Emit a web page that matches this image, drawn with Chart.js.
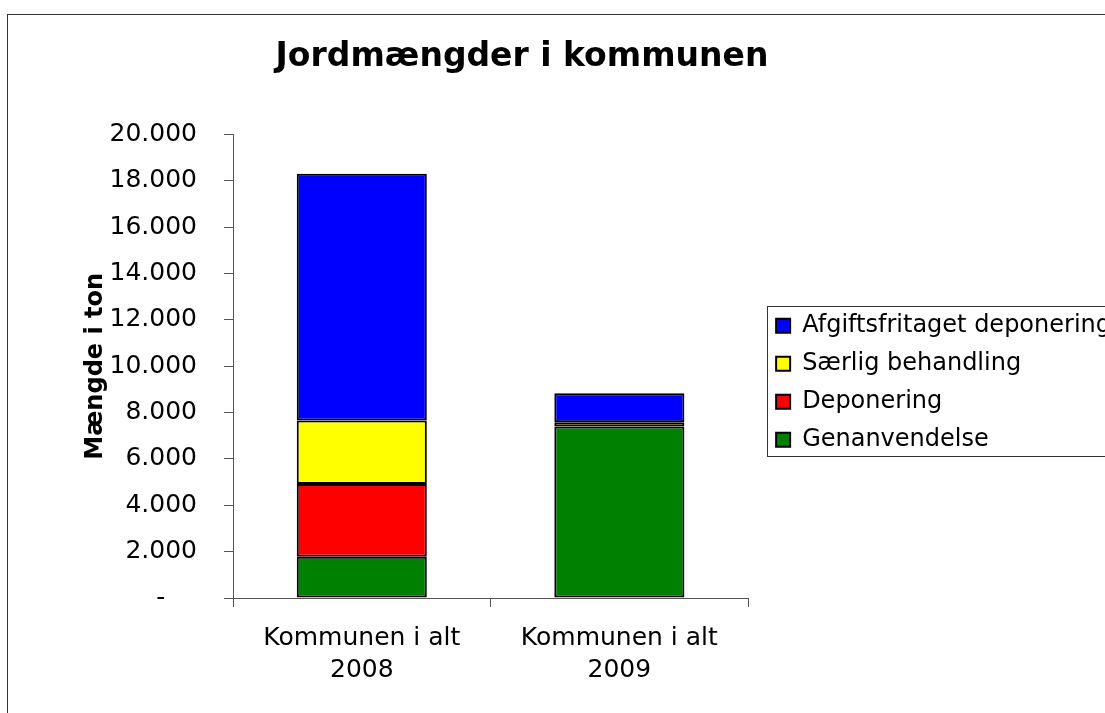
<!DOCTYPE html>
<html>
<head>
<meta charset="utf-8">
<title>Jordmængder i kommunen</title>
<script src="https://cdn.jsdelivr.net/npm/chart.js@4.4.0/dist/chart.umd.min.js"></script>
<style>
    html, body { margin: 0; padding: 0; background: #fff; overflow: hidden; }
    #frame { position: absolute; left: 7px; top: 14px; width: 1200px; height: 800px; border: 1px solid #333; }
    #chart { position: absolute; left: -60px; top: 0; }
</style>
</head>
<body>
<div id="frame"></div>
<canvas id="chart" width="1165" height="713"></canvas>
<script>
// Data
const categories = [['Kommunen i alt', '2008'], ['Kommunen i alt', '2009']];
const seriesNames = ['Genanvendelse', 'Deponering', 'Særlig behandling', 'Afgiftsfritaget deponering'];
const genanvendelse = [1780, 7400];
const deponering = [3140, 0];
const saerligBehandling = [2740, 180];
const afgiftsfritaget = [10650, 1260];
const seriesColors = ['#008000', '#ff0000', '#ffff00', '#0000ff'];
const yMax = 20000;
const yStep = 2000;

Chart.defaults.font.family = "'DejaVu Sans', Verdana, sans-serif";
Chart.defaults.color = '#000';

function formatTon(value) {
    if (value === 0) return '-    ';
    return String(value).replace(/\B(?=(\d{3})+(?!\d))/g, '.');
}

// draws the thin frame round the legend, like the Excel original
const legendFrame = {
    id: 'legendFrame',
    afterDraw(chart) {
        const boxes = chart.legend.legendHitBoxes;
        if (!boxes || !boxes.length) return;
        const first = boxes[0];
        const last = boxes[boxes.length - 1];
        const ctx = chart.ctx;
        ctx.save();
        ctx.strokeStyle = '#333';
        ctx.lineWidth = 1;
        ctx.strokeRect(Math.round(first.left - 9) + 0.5, Math.round(first.top - 8) + 0.5,
            chart.width, Math.round(last.top + last.height - first.top + 12));
        ctx.restore();
    }
};

const seriesData = [genanvendelse, deponering, saerligBehandling, afgiftsfritaget];

const datasets = seriesNames.map((name, i) => ({
    label: name,
    data: seriesData[i],
    backgroundColor: seriesColors[i],
    borderColor: '#000',
    borderWidth: 2,
    borderSkipped: false,
    barPercentage: 0.505,
    categoryPercentage: 1
}));

const ctx = document.getElementById('chart').getContext('2d');
new Chart(ctx, {
    type: 'bar',
    data: {
        labels: categories,
        datasets: datasets
    },
    options: {
        responsive: false,
        animation: false,
        layout: {
            padding: { left: -17, right: -16, top: 0, bottom: 15 }
        },
        plugins: {
            title: {
                display: true,
                text: 'Jordmængder i kommunen',
                color: '#000',
                font: { size: 33, weight: 'bold' },
                padding: { top: 38, bottom: 57 }
            },
            legend: {
                position: 'right',
                fullSize: false,
                align: 'center',
                reverse: true,
                maxWidth: 400,
                title: {
                    display: true,
                    text: ' ',
                    font: { size: 10, lineHeight: 1 },
                    padding: { top: 0, bottom: 23 }
                },
                labels: {
                    boxWidth: 14,
                    boxHeight: 14,
                    padding: 14,
                    color: '#000',
                    font: { size: 24 }
                }
            },
            tooltip: { enabled: false }
        },
        scales: {
            x: {
                stacked: true,
                grid: { drawOnChartArea: false, color: '#555', tickLength: 9, offset: true },
                border: { color: '#555' },
                ticks: {
                    color: '#000',
                    padding: 15,
                    maxRotation: 0,
                    font: { size: 25, lineHeight: 1.28 }
                },
                afterFit: function(scale) { scale.height = 100; }
            },
            y: {
                stacked: true,
                min: 0,
                max: yMax,
                grid: { drawOnChartArea: false, color: '#555', tickLength: 9 },
                border: { color: '#555' },
                ticks: {
                    stepSize: yStep,
                    padding: 27,
                    color: '#000',
                    font: { size: 25 },
                    callback: function(value) { return formatTon(value); }
                },
                title: {
                    display: true,
                    text: 'Mængde i ton',
                    color: '#000',
                    font: { size: 24, weight: 'bold' },
                    padding: { top: 158.6, bottom: 0 }
                },
                afterFit: function(scale) { scale.width = 310; }
            },
            spacer: {
                type: 'linear',
                axis: 'y',
                position: 'right',
                display: true,
                grid: { display: false },
                border: { display: false },
                ticks: { display: false },
                afterFit: function(scale) { scale.width = 14; }
            }
        }
    },
    plugins: [legendFrame]
});
</script>
</body>
</html>
